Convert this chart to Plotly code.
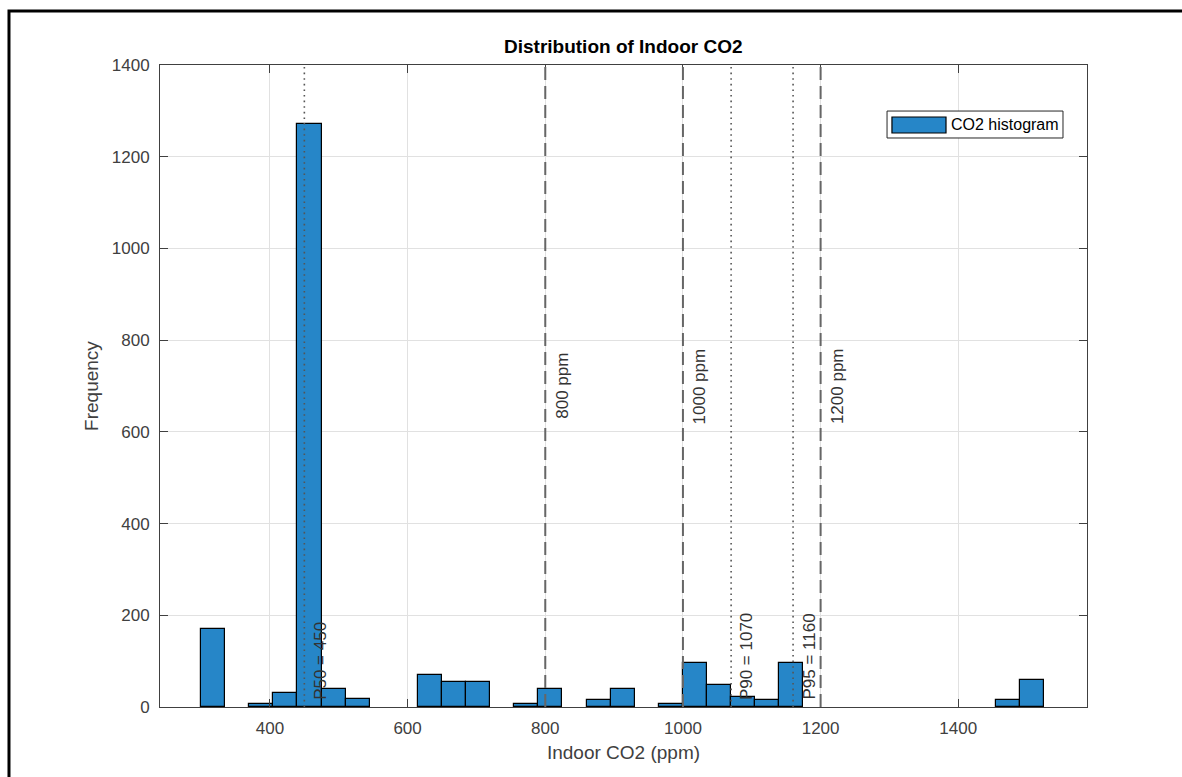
import plotly.graph_objects as go

# Histogram of indoor CO2 readings (bin width 35 ppm, first edge 300 ppm)
bin_start = 300
bin_width = 35
counts = [171, 0, 7, 30, 1272, 40, 17, 0, 0, 70,
          55, 55, 0, 7, 40, 0, 16, 40, 0, 7,
          97, 49, 21, 15, 97, 0, 0, 0, 0, 0,
          0, 0, 0, 16, 58]

# Reference thresholds and percentiles
thresholds = [800, 1000, 1200]
percentile_names = ["P50", "P90", "P95"]
percentile_values = [450, 1070, 1160]

x_ticks = [400, 600, 800, 1000, 1200, 1400]
y_ticks = [0, 200, 400, 600, 800, 1000, 1200, 1400]

# Only non-empty bins get a visible bar
centers = [bin_start + bin_width * (i + 0.5) for i, c in enumerate(counts) if c > 0]
heights = [c for c in counts if c > 0]

FONT = "Liberation Sans, Arial, sans-serif"
BAR_COLOR = "rgb(38,134,200)"
TEXT_GRAY = "#404040"

fig = go.Figure()
fig.add_trace(go.Bar(
    x=centers, y=heights, width=bin_width,
    marker=dict(color=BAR_COLOR, line=dict(color="black", width=1.2)),
    name="CO2 histogram", showlegend=False,
))

shapes = []
annotations = []

# Threshold lines (dashed) with labels centred vertically
for t in thresholds:
    shapes.append(dict(type="line", xref="x", yref="paper", x0=t, x1=t, y0=0, y1=1,
                       line=dict(color="#666666", width=2, dash="13px,6px"), layer="above"))
    annotations.append(dict(x=t, xref="x", y=0.5, yref="paper", text=f"{t} ppm",
                            textangle=-90, showarrow=False, xanchor="left", yanchor="middle",
                            xshift=5, font=dict(family=FONT, size=17, color="#333333")))

# Percentile lines (dotted) with labels at the bottom
for name, v in zip(percentile_names, percentile_values):
    shapes.append(dict(type="line", xref="x", yref="paper", x0=v, x1=v, y0=0, y1=1,
                       line=dict(color="#555555", width=1.6, dash="1.6px,4px"), layer="above"))
    annotations.append(dict(x=v, xref="x", y=0, yref="paper", text=f"{name} = {v}",
                            textangle=-90, showarrow=False, xanchor="left", yanchor="bottom",
                            xshift=4, yshift=5, font=dict(family=FONT, size=17, color="#333333")))

# Legend box
shapes.append(dict(type="rect", xref="paper", yref="paper", x0=0.7843, x1=0.9741,
                   y0=0.8863, y1=0.9283, line=dict(color="#262626", width=1),
                   fillcolor="white", layer="above"))
shapes.append(dict(type="rect", xref="paper", yref="paper", x0=0.7896, x1=0.8479,
                   y0=0.8941, y1=0.9190, line=dict(color="black", width=1.2),
                   fillcolor=BAR_COLOR, layer="above"))
annotations.append(dict(x=0.8511, xref="paper", y=0.9073, yref="paper", text="CO2 histogram",
                        showarrow=False, xanchor="left", yanchor="middle",
                        font=dict(family=FONT, size=16, color="black")))

# Figure frame
shapes.append(dict(type="rect", xref="paper", yref="paper", x0=-0.1629, x1=1.2,
                   y0=-0.2, y1=1.0841, line=dict(color="black", width=3),
                   fillcolor="rgba(0,0,0,0)", layer="above"))

axis_common = dict(
    showgrid=True, gridcolor="#e1e1e1", gridwidth=1,
    showline=True, linecolor="#404040", linewidth=1, mirror="ticks",
    ticks="inside", ticklen=8, tickcolor="#404040", tickwidth=1,
    zeroline=False,
    tickfont=dict(family=FONT, size=17, color=TEXT_GRAY),
)

fig.update_layout(
    width=1182, height=777,
    margin=dict(l=160, r=95, t=65, b=70),
    paper_bgcolor="white", plot_bgcolor="white",
    bargap=0,
    title=dict(text="<b>Distribution of Indoor CO2</b>", x=0.5273, xanchor="center",
               y=0.94, yanchor="middle", font=dict(family=FONT, size=19, color="black")),
    xaxis=dict(range=[240.3, 1587], tickvals=x_ticks,
               title=dict(text="Indoor CO2 (ppm)", standoff=8,
                          font=dict(family=FONT, size=19, color=TEXT_GRAY)),
               ticklabelstandoff=6, **axis_common),
    yaxis=dict(range=[0, 1400], tickvals=y_ticks,
               title=dict(text="Frequency", standoff=8,
                          font=dict(family=FONT, size=19, color=TEXT_GRAY)),
               ticklabelstandoff=6, **axis_common),
    shapes=shapes,
    annotations=annotations,
)

fig.write_html("out.html")
